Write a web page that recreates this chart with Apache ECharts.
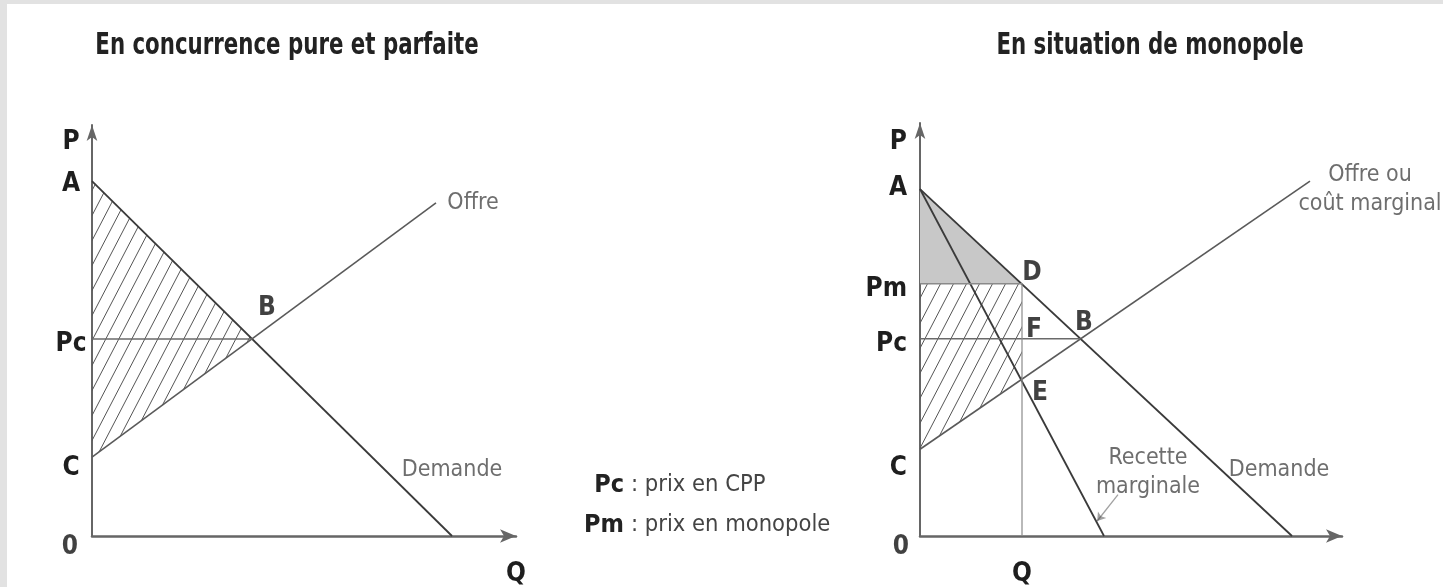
<!DOCTYPE html>
<html>
<head>
<meta charset="utf-8">
<script src="https://cdn.jsdelivr.net/npm/echarts@6/dist/echarts.min.js"></script>
<style>
  html, body { margin: 0; padding: 0; background: #e2e2e2; }
  #wrap { position: relative; width: 1443px; height: 587px; overflow: hidden; }
  #chart { position: absolute; left: 7px; top: 4px; width: 1436px; height: 583px; background: #fff; }
</style>
</head>
<body>
<div id="wrap"><div id="chart"></div></div>
<script>
// concurrence pure et parfaite (unités du schéma)
const ccpDemande = [[0, 9], [9, 0]]
const ccpOffre = [[0, 2], [8.6, 8.45]]
const ccpPc = [[0, 5], [4, 5]]
const ccpSurplus = [[0, 9], [4, 5], [0, 2]]
const ccpPoints = [["B", 4, 5], ["0", 0, 0]]
const ccpYTicks = [1.72, 4.87, 8.92, 9.99]
const ccpYLabels = ["C", "Pc", "A", "P"]
const ccpXTicks = [10.6]
const ccpXLabels = ["Q"]
const ccpNotes = [["Offre", 9.525, 8.45], ["Demande", 9.0, 1.67]]

// monopole
const monoDemande = [[0, 8.8], [9.3, 0]]
const monoRecette = [[0, 8.8], [4.6, 0]]
const monoOffre = [[0, 2.2], [9.75, 9]]
const monoPm = [[0, 6.4], [2.55, 6.4]]
const monoPc = [[0, 5], [4, 5]]
const monoQm = [[2.55, 0], [2.55, 6.4]]
const monoGris = [[0, 8.8], [2.55, 6.4], [0, 6.4]]
const monoHachure = [[0, 2.2], [2.55, 4], [2.55, 6.4], [0, 6.4]]
const monoFleche = [[4.95, 1.05], [4.43, 0.38]]
const monoPoints = [["D", 2.55, 6.4], ["F", 2.55, 5], ["B", 4, 5], ["E", 2.55, 4], ["0", 0, 0]]
const monoYTicks = [1.72, 4.87, 6.27, 8.82, 9.99]
const monoYLabels = ["C", "Pc", "Pm", "A", "P"]
const monoXTicks = [2.55]
const monoXLabels = ["Q"]
const monoNotes = [["Recette\nmarginale", 5.7, 1.6], ["Demande", 8.975, 1.67], ["Offre ou\ncoût marginal", 11.25, 8.775]]

const titres = ["En concurrence pure et parfaite", "En situation de monopole"]
const legendeCles = ["Pc", "Pm"]
const legendeTextes = [": prix en CPP", ": prix en monopole"]

const FONT = '"Liberation Sans Narrow", "DejaVu Sans Condensed", sans-serif'
// décalage des lettres par rapport à leur point (px), un objet par graphique
const offsets = [
  { B: [15, -31], "0": [-22, 11] },
  { D: [10, -10], F: [12, -9], B: [4, -16], E: [18, 15], "0": [-19, 11] }
]

// motif hachuré ///
function hachures() {
  const w = 13, h = 25
  const c = document.createElement("canvas")
  c.width = w
  c.height = h
  const ctx = c.getContext("2d")
  ctx.strokeStyle = "#555"
  ctx.lineWidth = 1
  for (let k = -w; k <= w; k += w) {
    ctx.beginPath()
    ctx.moveTo(k, h)
    ctx.lineTo(k + w, 0)
    ctx.stroke()
  }
  return { image: c, repeat: "repeat" }
}
const motif = hachures()

function nearest(ticks, labels, v) {
  let best = 0
  ticks.forEach((t, i) => { if (Math.abs(t - v) < Math.abs(ticks[best] - v)) best = i })
  return labels[best]
}

function axeX(gi, max, ticks, labels) {
  return {
    gridIndex: gi, type: "value", min: 0, max: max,
    axisLine: { show: true, symbol: ["none", "arrow"], symbolSize: [10, 16], lineStyle: { color: "#666", width: 2.5 } },
    axisTick: { show: false }, splitLine: { show: false },
    axisLabel: {
      customValues: ticks, formatter: v => nearest(ticks, labels, v), margin: 25,
      fontFamily: FONT, fontWeight: "bold", fontSize: 26, color: "#1e1e1e"
    }
  }
}
function axeY(gi, max, ticks, labels, align, margin) {
  return {
    gridIndex: gi, type: "value", min: 0, max: max,
    axisLine: { show: true, symbol: ["none", "arrow"], symbolSize: [8, 16], lineStyle: { color: "#666", width: 2 } },
    axisTick: { show: false }, splitLine: { show: false },
    axisLabel: {
      customValues: ticks, formatter: v => nearest(ticks, labels, v), margin: margin, align: align,
      fontFamily: FONT, fontWeight: "bold", fontSize: 26, color: "#1e1e1e"
    }
  }
}

function trait(data, gi, color, width) {
  return { type: "line", xAxisIndex: gi, yAxisIndex: gi, data: data, symbol: "none", silent: true, z: 3, lineStyle: { color: color, width: width } }
}
function polygone(points, fill, gi) {
  return {
    type: "custom", xAxisIndex: gi, yAxisIndex: gi, silent: true, z: 1, data: [[0, 0]],
    renderItem: (params, api) => ({
      type: "polygon",
      shape: { points: points.map(p => api.coord(p)) },
      style: { fill: fill, stroke: "none" }
    })
  }
}
function lettres(points, gi) {
  return {
    type: "scatter", xAxisIndex: gi, yAxisIndex: gi, silent: true, z: 5, symbolSize: 1, clip: false,
    itemStyle: { color: "transparent" },
    data: points.map(p => ({ name: p[0], value: [p[1], p[2]] })),
    label: {
      show: true, position: "inside", formatter: p => p.name,
      fontFamily: FONT, fontWeight: "bold", fontSize: 26, color: "#111"
    },
    labelLayout: p => {
      const o = offsets[gi][p.text] || [0, 0]
      return { dx: o[0], dy: o[1] }
    }
  }
}
function notes(items, gi) {
  return {
    type: "scatter", xAxisIndex: gi, yAxisIndex: gi, silent: true, z: 5, symbolSize: 1, clip: false,
    itemStyle: { color: "transparent" },
    data: items.map(p => ({ name: p[0], value: [p[1], p[2]] })),
    label: {
      show: true, position: "inside", formatter: p => p.name, lineHeight: 29,
      fontFamily: FONT, fontSize: 23, color: "#4a4a4a"
    }
  }
}

const chart = echarts.init(document.getElementById("chart"))
chart.setOption({
  animation: false,
  backgroundColor: "#fff",
  grid: [
    { left: 85, top: 121, width: 424, height: 417 },
    { left: 913, top: 119, width: 422, height: 419 }
  ],
  xAxis: [axeX(0, 10.6, ccpXTicks, ccpXLabels), axeX(1, 10.55, monoXTicks, monoXLabels)],
  yAxis: [axeY(0, 10.425, ccpYTicks, ccpYLabels, "center", 21), axeY(1, 10.475, monoYTicks, monoYLabels, "right", 13)],
  graphic: [
    { type: "text", x: 280, y: 42, scaleX: 0.79, style: { text: titres[0], align: "center", verticalAlign: "middle", fontFamily: FONT, fontWeight: "bold", fontSize: 30, fill: "#222" } },
    { type: "text", x: 1143, y: 42, scaleX: 0.79, style: { text: titres[1], align: "center", verticalAlign: "middle", fontFamily: FONT, fontWeight: "bold", fontSize: 30, fill: "#222" } }
  ].concat(legendeCles.flatMap((k, i) => [
    { type: "text", x: 617, y: 481 + i * 40, style: { text: k, align: "right", verticalAlign: "middle", fontFamily: FONT, fontWeight: "bold", fontSize: 25, fill: "#222" } },
    { type: "text", x: 624, y: 481 + i * 40, style: { text: legendeTextes[i], align: "left", verticalAlign: "middle", fontFamily: FONT, fontSize: 23.5, fill: "#444" } }
  ])),
  series: [
    polygone(ccpSurplus, motif, 0),
    trait(ccpDemande, 0, "#3a3a3a", 1.8),
    trait(ccpOffre, 0, "#5a5a5a", 1.6),
    trait(ccpPc, 0, "#6a6a6a", 1.5),
    lettres(ccpPoints, 0),
    notes(ccpNotes, 0),

    polygone(monoGris, "#c8c8c8", 1),
    polygone(monoHachure, motif, 1),
    trait(monoDemande, 1, "#3a3a3a", 1.8),
    trait(monoRecette, 1, "#3a3a3a", 1.8),
    trait(monoOffre, 1, "#5a5a5a", 1.6),
    trait(monoPm, 1, "#8a8a8a", 1.5),
    trait(monoPc, 1, "#6a6a6a", 1.5),
    trait(monoQm, 1, "#8a8a8a", 1.2),
    {
      type: "lines", coordinateSystem: "cartesian2d", xAxisIndex: 1, yAxisIndex: 1, silent: true, z: 4,
      symbol: ["none", "arrow"], symbolSize: 8,
      data: [{ coords: monoFleche }],
      lineStyle: { color: "#444", width: 1.3 }
    },
    lettres(monoPoints, 1),
    notes(monoNotes, 1)
  ]
})
</script>
</body>
</html>
